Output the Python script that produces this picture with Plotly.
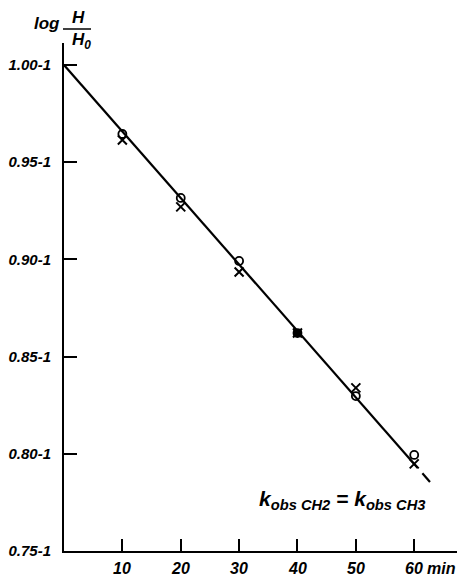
import plotly.graph_objects as go

# data
times = [10, 20, 30, 40, 50, 60]
circles = [0.9645, 0.9316, 0.8992, 0.8621, 0.8297, 0.7994]
crosses = [0.9614, 0.9270, 0.8935, 0.8621, 0.8339, 0.7948]
overlap_t = [40]
overlap_v = [0.8621]
fit_solid_x = [0, 60.6]
fit_solid_y = [1.000, 0.7927]
fit_dash_x = [61.4, 62.7]
fit_dash_y = [0.7900, 0.7855]
xticks = [10, 20, 30, 40, 50, 60]
xlabels = ["10", "20", "30", "40", "50", "60"]
yticks = [0.75, 0.80, 0.85, 0.90, 0.95, 1.00]
ylabels = ["0.75-1", "0.80-1", "0.85-1", "0.90-1", "0.95-1", "1.00-1"]

FONT = "Liberation Sans"
OFF = 8  # default page body margin
W, H = 465 - OFF, 576 - OFF
# plot area in screen pixels: x 64..465, y 43..551
L, R, T, B = 64 - OFF, 0, 43 - OFF, 25
PX0, PX1, PY0, PY1 = 64, 465, 43, 551

def px(x):
    return (x - PX0) / (PX1 - PX0)

def py(y):
    return (PY1 - y) / (PY1 - PY0)

def font(size):
    return dict(family=FONT, size=size, color="black", weight="bold", style="italic")

fig = go.Figure()
fig.add_trace(go.Scatter(x=fit_solid_x, y=fit_solid_y, mode="lines",
                         line=dict(color="black", width=2.2), hoverinfo="skip"))
fig.add_trace(go.Scatter(x=fit_dash_x, y=fit_dash_y, mode="lines",
                         line=dict(color="black", width=2.2), hoverinfo="skip"))
fig.add_trace(go.Scatter(x=times, y=circles, mode="markers",
                         marker=dict(symbol="circle-open", size=8, color="black",
                                     line=dict(width=1.8, color="black"))))
fig.add_trace(go.Scatter(x=times, y=crosses, mode="markers",
                         marker=dict(symbol="x-thin-open", size=9, color="black",
                                     line=dict(width=2, color="black"))))
fig.add_trace(go.Scatter(x=overlap_t, y=overlap_v, mode="markers",
                         marker=dict(symbol="square", size=8, color="black")))

fig.update_layout(
    width=W, height=H,
    margin=dict(l=L, r=R, t=T, b=B, pad=0),
    paper_bgcolor="white", plot_bgcolor="white",
    showlegend=False,
    xaxis=dict(range=[0, 68.7], tickvals=xticks, showticklabels=False,
               ticks="inside", ticklen=12, tickwidth=1.5, tickcolor="black",
               showline=True, linecolor="black", linewidth=2, showgrid=False,
               zeroline=False),
    yaxis=dict(range=[0.75, 1.0113], tickvals=yticks, ticktext=ylabels,
               ticks="inside", ticklen=13, tickwidth=1.5, tickcolor="black",
               showline=True, linecolor="black", linewidth=2, showgrid=False,
               zeroline=False, tickfont=font(15), ticklabelstandoff=8),
)

# x tick labels placed on the x scale, just below the axis
for t, lab in zip(xticks, xlabels):
    fig.add_annotation(xref="x", yref="paper", x=t, y=py(568), text=lab,
                       xanchor="center", yanchor="middle", showarrow=False,
                       font=font(16))

anns = [
    dict(text="min", x=px(441), y=py(568), size=16),
    dict(text="log", x=px(47), y=py(23), size=17),
    dict(text="H", x=px(78), y=py(17), size=17),
    dict(text="H<sub>0</sub>", x=px(81), y=py(41), size=17),
    dict(text="k<sub>obs CH2</sub> = k<sub>obs CH3</sub>", x=px(342), y=py(500), size=21),
]
for a in anns:
    size = a.pop("size")
    fig.add_annotation(xref="paper", yref="paper", xanchor="center", yanchor="middle",
                       showarrow=False, font=font(size), **a)

fig.add_shape(type="line", xref="paper", yref="paper",
              x0=px(63), x1=px(91), y0=py(29), y1=py(29),
              line=dict(color="black", width=1.5))

fig.write_html("out.html")
